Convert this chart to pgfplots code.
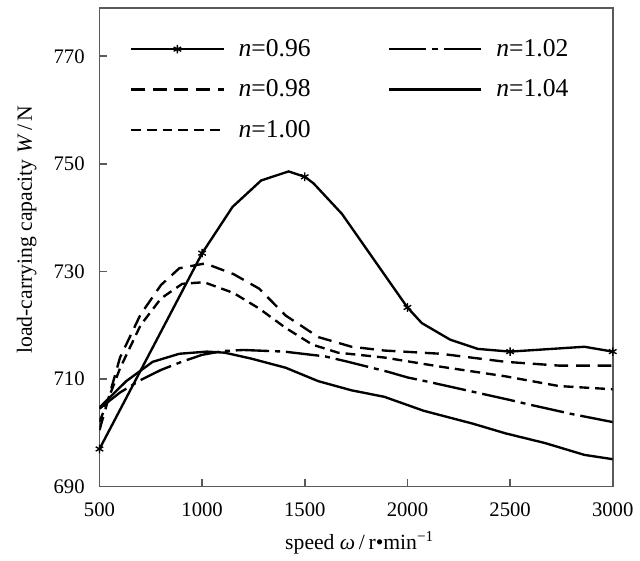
\documentclass[border=0pt]{standalone}
\usepackage{fontspec}
\setmainfont{Liberation Serif}
\usepackage{pgfplots}
\pgfplotsset{compat=1.18}
\usetikzlibrary{calc}

\pgfplotsset{
  starlegend/.style={
    legend image code/.code={
      \draw[##1, mark=none] (0pt,0pt) -- (47pt,0pt);
      \draw[##1, only marks] plot coordinates {(23.5pt,0pt)};
    }
  },
  dashdotlegend/.style={
    legend image code/.code={
      \draw[##1, dash pattern=on 19pt off 3pt on 3pt off 3pt] (0pt,0pt) -- (47pt,0pt);
    }
  }
}

\begin{document}
\begin{tikzpicture}
\begin{axis}[
  scale only axis, width=260.5pt, height=243pt,
  xmin=500, xmax=3000, ymin=690, ymax=779,
  xtick={500,1000,...,3000}, ytick={690,710,730,750,770},
  tick pos=left, tick align=inside, major tick length=4pt,
  axis line style={black!65, line width=0.8pt},
  tick style={black!65, line width=0.8pt},
  /pgf/number format/assume math mode=true,
  /pgf/number format/1000 sep={},
  ticklabel style={font=\fontsize{10.5}{12}\selectfont},
  xticklabel style={yshift=-4.5pt},
  yticklabel style={xshift=-4pt},
  label style={font=\fontsize{11}{13}\selectfont},
  xlabel={speed \textit{ω}\,/\,r•min\textsuperscript{−1}},
  ylabel={load-carrying capacity \textit{W}\,/\,N},
  xlabel style={at={(axis description cs:0.507,-0.118)}, anchor=center},
  ylabel style={at={(axis description cs:-0.142,0.537)}, anchor=center},
  legend columns=2,
  legend cell align=left,
  legend image code/.code={
    \draw[mark repeat=2, mark phase=2, #1] plot coordinates {(0pt,0pt) (23.5pt,0pt) (47pt,0pt)};
  },
  legend style={draw=none, fill=none, anchor=north west,
    at={(axis description cs:0.047,0.952)}, row sep=6.4pt, font=\fontsize{13}{15}\selectfont,
    /tikz/every even column/.append style={column sep=37pt}},
  every axis plot/.append style={black, line width=1.2pt},
]
% n=0.96
\addplot[mark=asterisk, mark size=2.2pt, mark options={solid, line width=0.7pt},
  mark indices={1,2,6,9,13,15}, starlegend] coordinates {
  (500,697) (1000,733.4) (1148,742) (1287,746.9) (1421,748.6) (1500,747.6)
  (1542,746.4) (1681,740.7) (2000,723.3) (2070,720.4) (2209,717.3)
  (2343,715.6) (2500,715.1) (2862,716) (3000,715.1)};
% n=1.02
\addplot[dash pattern=on 17pt off 3pt on 2.5pt off 3pt, dashdotlegend] coordinates {
  (500,704.5) (600,707.5) (700,709.8) (800,711.7) (900,713.2) (1000,714.5)
  (1100,715.2) (1200,715.4) (1400,715.1) (1600,714.2) (1700,713.3)
  (1900,711.4) (2000,710.3) (2100,709.5) (2300,707.8) (2500,706.1)
  (2600,705.2) (2800,703.5) (3000,702)};
% n=0.98
\addplot[dash pattern=on 7pt off 4pt] coordinates {
  (500,700.5) (600,714) (700,722) (800,727.5) (889,730.6) (1015,731.5)
  (1153,729.5) (1278,726.8) (1407,721.8) (1566,717.8) (1728,716)
  (1887,715.3) (2161,714.7) (2478,713.2) (2737,712.5) (3000,712.5)};
% n=1.04
\addplot[solid] coordinates {
  (500,704.7) (630,709.6) (759,713.2) (889,714.7) (1023,715.1) (1110,714.9)
  (1239,713.8) (1407,712.1) (1566,709.6) (1728,707.9) (1887,706.7)
  (2079,704.1) (2319,701.7) (2478,699.9) (2670,698.1) (2862,695.9) (3000,695.1)};
% n=1.00
\addplot[dash pattern=on 5pt off 3pt] coordinates {
  (500,702) (600,712) (700,720) (800,725) (903,727.7) (1009,728)
  (1153,726) (1278,723.1) (1407,719.5) (1537,716.4) (1662,714.9)
  (1887,714) (2161,712.3) (2478,710.5) (2737,708.7) (3000,708.1)};
\legend{\hspace{5pt}\textit{n}=0.96, \hspace{5pt}\textit{n}=1.02, \hspace{5pt}\textit{n}=0.98,
  \hspace{5pt}\textit{n}=1.04, \hspace{5pt}\textit{n}=1.00}
\end{axis}
\path ($(current axis.south west)+(-50.5pt,-32pt)$) rectangle ($(current axis.north east)+(9pt,4pt)$);
\end{tikzpicture}
\end{document}
